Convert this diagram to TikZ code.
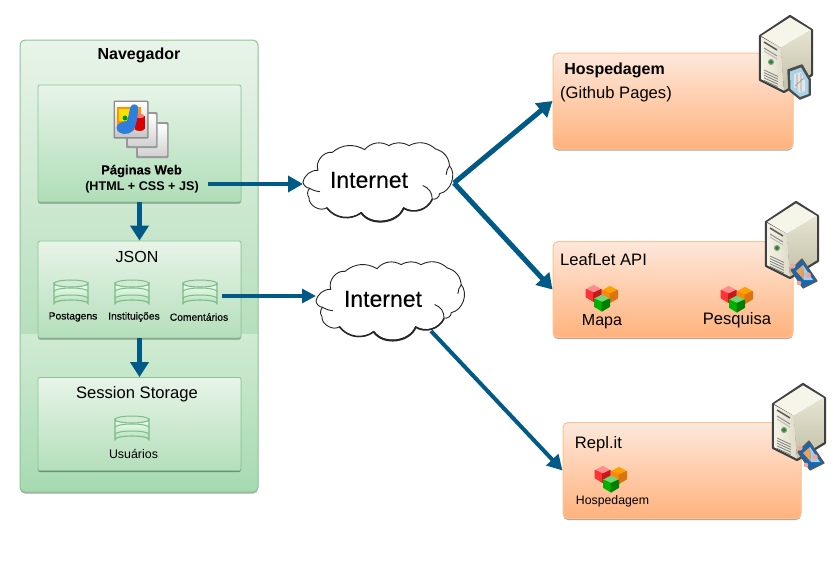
\documentclass[tikz,border=0pt]{standalone}
\usepackage{fontspec}
\setmainfont{Liberation Sans}
\newfontfamily\medfont[FakeBold=0.25]{Liberation Sans}
\newfontfamily\netfont[FakeBold=0.12]{Liberation Sans}
\usetikzlibrary{arrows.meta,shadows,calc}
\definecolor{arrowblue}{HTML}{005A85}
\definecolor{greenedge}{HTML}{8CC596}
\definecolor{dbedge}{HTML}{7DBB88}
\definecolor{peachedge}{HTML}{FFC28F}
\definecolor{gA}{HTML}{A6DAB0}
\definecolor{gB}{HTML}{D0EBD3}
\definecolor{gC}{HTML}{B6DFBD}
\definecolor{gD}{HTML}{E8F4E8}
\definecolor{gE}{HTML}{B4DFBB}
\definecolor{peachA}{HTML}{FDE8DB}
\definecolor{peachB}{HTML}{FFB27D}
\definecolor{srvTop}{HTML}{F6F5EA}
\definecolor{srvFrontA}{HTML}{F4F3E6}
\definecolor{srvFrontB}{HTML}{DEDCC6}
\definecolor{srvSideA}{HTML}{E6E4D2}
\definecolor{srvSideB}{HTML}{C2C0A8}
\definecolor{cardBlue}{HTML}{A7D3E8}
\definecolor{triBlue}{HTML}{1467B0}
\definecolor{triOrange}{HTML}{F0A050}
\definecolor{triLight}{HTML}{9FD0EC}
\definecolor{triPink}{HTML}{F3A59A}
\definecolor{swoop}{HTML}{2E7FDC}
\pgfdeclareverticalshading{outergreen}{100bp}{
 color(0bp)=(gA); color(25bp)=(gA); color(42.5bp)=(gB); color(42.6bp)=(gC); color(75bp)=(gD); color(100bp)=(gD)}
\tikzset{
 softshadow/.style={drop shadow={shadow xshift=0pt,shadow yshift=-1.5pt,opacity=.35,fill=black}},
 outerpanel/.style={draw=greenedge,line width=1pt,rounded corners=5pt,shading=outergreen,softshadow,minimum width=238pt,minimum height=452pt,inner sep=0pt},
 greenpanel/.style={draw=greenedge,line width=.8pt,rounded corners=2pt,top color=gD,bottom color=gA!90!white,softshadow,minimum width=203pt,inner sep=0pt},
 peachbox/.style={draw=peachedge,line width=1pt,rounded corners=5pt,top color=peachA,bottom color=peachB,softshadow,minimum height=96pt,inner sep=0pt},
 flowbig/.style={draw=arrowblue,line width=5pt,-{Triangle[length=15pt,width=18pt]}},
 flowmid/.style={draw=arrowblue,line width=4pt,-{Triangle[length=15pt,width=16pt]}},
 flowthin/.style={draw=arrowblue,line width=3.2pt,-{Triangle[length=14pt,width=14pt]}},
 txt/.style={inner sep=0pt,text=black,anchor=center},
 cloudline/.style={draw=black!85,line width=.9pt,line cap=round},
}

\newcommand{\dbicon}[2]{%
 \begin{scope}[shift={(#1,#2)}]
  \path[draw=dbedge,line width=1.1pt,top color=green!6!white,bottom color=gE]
   (-17,-10) arc[x radius=17,y radius=3.5,start angle=180,end angle=0]
   -- (17,10) arc[x radius=17,y radius=3.5,start angle=0,end angle=-180] -- cycle;
  \draw[dbedge,line width=1pt] (-17,-10) arc[x radius=17,y radius=3.5,start angle=180,end angle=360];
  \draw[dbedge,line width=1pt] (-17,-2) arc[x radius=17,y radius=3.5,start angle=180,end angle=360];
  \draw[dbedge,line width=1pt] (-17,5) arc[x radius=17,y radius=3.5,start angle=180,end angle=360];
 \end{scope}}

\newcommand{\cubelet}[5]{%
 \begin{scope}[shift={(#1,#2)},line width=1pt,line join=round]
  \filldraw[#3] (0,-7.5) -- (7.5,-3.5) -- (0,0) -- (-7.5,-3.5) -- cycle;
  \filldraw[#4] (-7.5,-3.5) -- (0,0) -- (0,8.5) -- (-7.5,4) -- cycle;
  \filldraw[#5] (7.5,-3.5) -- (0,0) -- (0,8.5) -- (7.5,4) -- cycle;
 \end{scope}}
\newcommand{\cubeicon}[2]{%
 \begin{scope}[shift={(#1,#2)}]
  \cubelet{11.7}{13}{red!45!white}{red!80!white}{red!75!black!90!white}
  \cubelet{28}{14}{orange!75!yellow}{orange!95!white}{orange!85!black!95!white}
  \cubelet{20}{22.5}{green!70!black!55!white}{green!70!black}{green!50!black}
 \end{scope}}

\newcommand{\serverbody}[2]{%
 \begin{scope}[shift={(#1,#2)}]
  \path[fill=black!75,draw=black!75,line width=2.2pt,line join=round]
   (33,4) -- (55,18) -- (55,63) -- (27,80) -- (3,68) -- (3,24) -- cycle;
  \path[left color=srvFrontA,right color=srvFrontB] (4.2,25) -- (24,36) -- (27,78.7) -- (4.2,67.3) -- cycle;
  \path[top color=srvSideA,bottom color=srvSideB] (23.5,35) -- (53.8,18) -- (53.8,62.3) -- (27,78.7) -- cycle;
  \fill[srvTop] (33,5.4) -- (53.8,18) -- (23.5,35.5) -- (4.2,24) -- cycle;
  \draw[black!65,line width=1.5pt] (7,30) -- (20,38);
  \draw[black!45,line width=1pt] (7,36) -- (20,44);
  \draw[black!30,line width=.8pt] (7,39) -- (20,47);
  \fill[black!45] (14,50) circle (3);
  \fill[green!60!black] (14,50) circle (1.8);
  \foreach \d in {0,2.6,5.2,7.8,10.4}{\draw[black!50,line width=.8pt] (7,{58+\d}) -- (21,{64.5+\d});}
 \end{scope}}

\newcommand{\cardbadge}[2]{%
 \begin{scope}[shift={(#1,#2)}]
  \path[fill=black!70,draw=black!70,line width=1.5pt,line join=round] (33,58) -- (47,53) -- (55,67) -- (55,83) -- (45,87) -- (34,78) -- cycle;
  \fill[cardBlue] (35,59.5) -- (46,55.5) -- (53.5,68) -- (53.5,82) -- (45,85) -- (35.5,77) -- cycle;
  \fill[white!80!gray] (39,62) -- (46,60) -- (50,69) -- (50,79) -- (45,81) -- (39,75) -- cycle;
  \draw[black!40,line width=.6pt] (42,62) -- (42,78) (46,61) -- (46,80) (40,74) -- (49,66);
 \end{scope}}
\newcommand{\triangbadge}[2]{%
 \begin{scope}[shift={(#1,#2)}]
  \path[fill=triBlue,draw=black!65,line width=1.2pt,line join=round] (39,61) -- (54,83) -- (40,90) -- (28,72) -- cycle;
  \fill[triOrange] (33,73) -- (40,67) -- (41,82) -- cycle;
  \fill[triLight] (40,67) -- (50,82) -- (41,82) -- cycle;
  \fill[triPink] (30,68) circle (2.6) (45,77) circle (2.8) (36,85) circle (2.3);
 \end{scope}}

\newcommand{\cloudicon}[3]{%
 \begin{scope}[shift={(#1,#2)},x=#3pt,y=-.333pt]
  \path[fill=white,draw=black!85,line width=.9pt,line join=round]
   (0,118) to[bend left=40] (45,82) to[bend left=60] (88,28)
   to[bend left=35] (185,20) to[bend left=40] (258,8)
   to[bend left=30] (318,8) to[bend left=35] (398,18)
   to[bend left=35] (440,68) to[bend left=60] (410,152)
   to[bend left=55] (388,168) to[bend left=50] (302,194)
   to[bend left=62] (175,208) to[bend left=50] (72,194)
   to[bend left=65] (18,164) to[bend left=40] (20,136)
   to[bend left=35] cycle;
  \draw[cloudline] (20,136) to[bend right=12] (50,146);
  \draw[cloudline] (360,128) to[bend left=35] (388,168);
  \draw[cloudline] (440,68) to[bend right=15] (430,95);
  \draw[cloudline,line width=1.5pt] (72,196) to[bend right=42] (175,210);
  \draw[cloudline,line width=1.8pt] (175,210) to[bend right=62] (302,196);
  \draw[cloudline,line width=1.5pt] (302,196) to[bend right=48] (388,170);
 \end{scope}}

\begin{document}
\begin{tikzpicture}[x=1pt,y=-1pt]
\useasboundingbox (0,0) rectangle (834,579);

% browser panel
\node[outerpanel] (nav) at (139,266) {};
\node[txt,font=\bfseries\fontsize{16}{18}\selectfont] (navt) at (139,55.5) {Navegador};
\node[greenpanel,minimum height=117pt] (pag) at (139.5,143.5) {};
\node[greenpanel,minimum height=97pt,bottom color=gE] (json) at (139.5,289.5) {};
\node[greenpanel,minimum height=93pt,bottom color=gE] (sess) at (139.5,424) {};

% page stack icon
\fill[black!40,rounded corners=1pt] (136,122) rectangle (168.5,158);
\path[top color=white,bottom color=black!18,rounded corners=1pt] (138,124) rectangle (167,156);
\fill[black!40,rounded corners=1pt] (126,112) rectangle (157.5,148);
\path[top color=white,bottom color=black!18,rounded corners=1pt] (128,114) rectangle (156,146);
\fill[black!45,rounded corners=1pt] (113.5,100.5) rectangle (148.5,138.5);
\path[top color=white,bottom color=black!22] (115,102) rectangle (147,136);
\fill[orange!85!yellow] (117,107) rectangle (141,130);
\fill[yellow!85!orange] (119,109) rectangle (130,121);
\fill[red!85!black] (135,116) rectangle (144.5,129);
\fill[red!55!white] (139.7,116) ellipse (4.7 and 2.2);
\fill[red!85!black] (139.7,129) ellipse (4.7 and 2);
\path[fill=swoop] (116.5,128) .. controls (117,123) and (122,122) .. (127,121)
  .. controls (129,116) and (129,110) .. (131,106) .. controls (133,103.5) and (137,104) .. (138,107)
  .. controls (138,115) and (137,124) .. (133,131) .. controls (128,135.5) and (118,135.5) .. (116.5,128) -- cycle;
\fill[green!60!black] (125,118) circle (2.5);

\node[txt,font=\medfont\bfseries\fontsize{13}{15}\selectfont] (pagt1) at (141.5,171) {Páginas Web};
\node[txt,font=\bfseries\fontsize{12.6}{15}\selectfont] (pagt2) at (142,187) {(HTML + CSS + JS)};
\node[txt,font=\fontsize{16}{18}\selectfont] (jsont) at (137,257) {JSON};
\dbicon{71}{293.5}
\dbicon{132}{293.5}
\dbicon{200}{293.5}
\node[txt,font=\medfont\fontsize{10.3}{12}\selectfont] (p1) at (73,317) {Postagens};
\node[txt,font=\medfont\fontsize{10.3}{12}\selectfont] (p2) at (134,317) {Instituições};
\node[txt,font=\medfont\fontsize{10.3}{12}\selectfont] (p3) at (199,317) {Comentários};
\node[txt,font=\fontsize{16.6}{18}\selectfont] (sesst) at (137,394) {Session Storage};
\dbicon{132}{429.5}
\node[txt,font=\fontsize{12.4}{14}\selectfont] (usr) at (133.5,454) {Usuários};

% right boxes
\node[peachbox,minimum width=240pt] (host) at (673,101) {};
\node[peachbox,minimum width=240pt] (leaf) at (673,289.5) {};
\node[peachbox,minimum width=238pt] (repl) at (682,470.5) {};
\node[txt,font=\bfseries\fontsize{16}{18}\selectfont] (hostt) at (614.5,70) {Hospedagem};
\node[txt,font=\fontsize{16.6}{18}\selectfont] (hostg) at (616,94.5) {(Github Pages)};
\node[txt,font=\fontsize{16.6}{18}\selectfont] (leaft) at (603.5,260) {LeafLet API};
\node[txt,font=\fontsize{16}{18}\selectfont] (mapa) at (602,322) {Mapa};
\node[txt,font=\fontsize{16.6}{18}\selectfont] (pesq) at (737,320.5) {Pesquisa};
\node[txt,font=\fontsize{16.6}{18}\selectfont] (replt) at (598.5,444) {Repl.it};
\node[txt,font=\fontsize{12.3}{14}\selectfont] (rhost) at (612.5,501) {Hospedagem};
\cubeicon{582}{280}
\cubeicon{717}{281}
\cubeicon{591}{461}

% connector ends
\coordinate (webout) at (208,184);
\coordinate (jsonout) at (222,296);
\coordinate (net1w) at (303,184);
\coordinate (net1e) at (454,183);
\coordinate (net2w) at (316,296);
\coordinate (net2s) at (431,331);

% connectors
\draw[flowbig] (pag.south) -- (json.north);
\draw[flowbig] (json.south) -- (sess.north);
\draw[flowmid] (webout) -- (net1w);
\draw[flowthin] (jsonout) -- (net2w);
\draw[flowbig] (net1e) -- (host.west);
\draw[flowbig] (net1e) -- (leaf.west);
\draw[flowmid] (net2s) -- (repl.west);

% clouds
\cloudicon{303}{143}{.333}
\node[txt,font=\netfont\fontsize{23}{25}\selectfont] (net1) at (369,180) {Internet};
\cloudicon{316}{262}{.33}
\node[txt,font=\netfont\fontsize{23}{25}\selectfont] (net2) at (383,299) {Internet};

% servers
\serverbody{757}{12}
\cardbadge{755}{12}
\serverbody{763}{198}
\triangbadge{763}{198}
\serverbody{770}{380}
\triangbadge{770}{380}
\end{tikzpicture}
\end{document}
